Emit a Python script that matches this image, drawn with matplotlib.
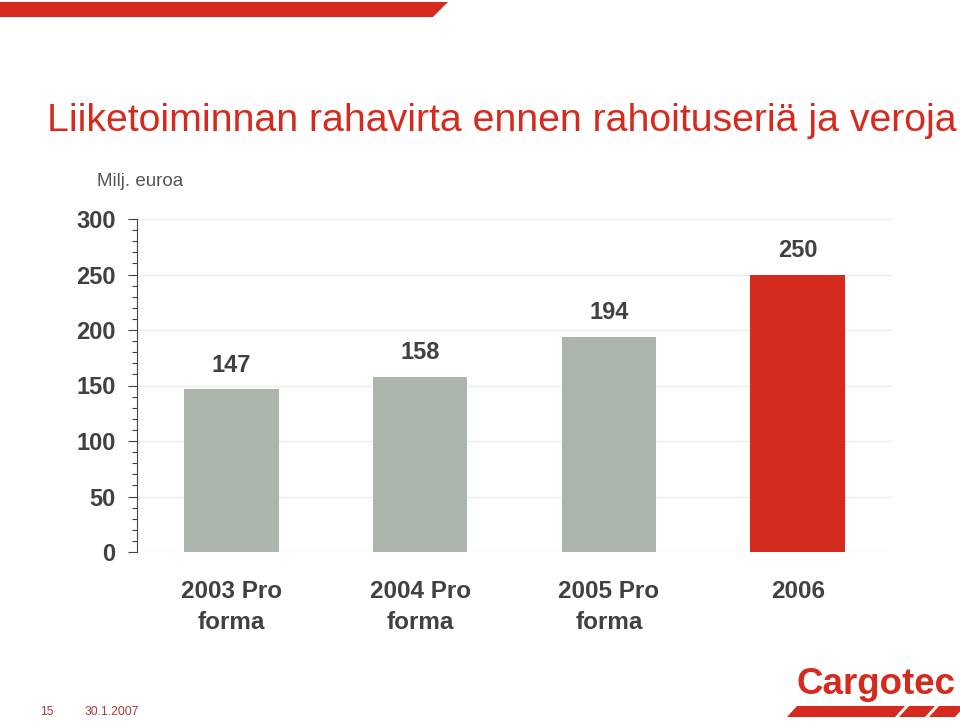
import matplotlib.pyplot as plt
from matplotlib.patches import Polygon
from matplotlib.ticker import MultipleLocator

plt.rcParams['font.family'] = ['Liberation Sans', 'DejaVu Sans']

# Data
categories = ['2003 Pro\nforma', '2004 Pro\nforma', '2005 Pro\nforma', '2006']
values = [147, 158, 194, 250]
bar_colors = ['#abb5ab', '#abb5ab', '#abb5ab', '#d52b1e']

RED = '#d52b1e'
DARK = '#3f423f'

fig = plt.figure(figsize=(9.6, 7.23), dpi=100)

# top red band with slanted end
band = Polygon([(0, 1 - 2/723), (448/960, 1 - 2/723), (433/960, 1 - 17/723), (0, 1 - 17/723)],
               closed=True, transform=fig.transFigure, color=RED, lw=0)
fig.patches.append(band)

fig.text(47/960, 1 - 131/723, 'Liiketoiminnan rahavirta ennen rahoituseriä ja veroja',
         color=RED, fontsize=28.3, ha='left', va='baseline')

ax = fig.add_axes([137/960, 1 - 552/723, 755/960, 333/723])
x = range(len(values))
ax.bar(x, values, width=0.5, color=bar_colors, zorder=3)
for xi, v in zip(x, values):
    ax.text(xi, v + 11, str(v), ha='center', va='bottom', fontsize=17,
            fontweight='bold', color=DARK)

ax.set_xlim(-0.5, 3.5)
ax.set_ylim(0, 300)
ax.yaxis.set_major_locator(MultipleLocator(50))
ax.yaxis.set_minor_locator(MultipleLocator(10))
ax.grid(axis='y', color='#ececec', lw=1, zorder=0)
ax.tick_params(axis='y', which='major', length=6.5, width=0.8, color=DARK,
               labelsize=17, labelcolor=DARK, pad=9)
ax.tick_params(axis='y', which='minor', length=3.6, width=0.8, color=DARK)
for lbl in ax.get_yticklabels():
    lbl.set_fontweight('bold')
ax.set_xticks(list(x))
ax.set_xticklabels(categories, fontsize=17.5, fontweight='bold', color=DARK, linespacing=1.45)
ax.tick_params(axis='x', length=0, pad=20)
for s in ['top', 'right', 'bottom']:
    ax.spines[s].set_visible(False)
ax.spines['left'].set_color(DARK)
ax.spines['left'].set_linewidth(0.8)

fig.text(97/960, 1 - 181/723, 'Milj. euroa', fontsize=13.5, color='#555555',
         ha='left', va='center')

# footer
fig.text(40/960, 1 - 712/723, '15', fontsize=8.7, color='#b03a3a', ha='left', va='center')
fig.text(85/960, 1 - 712/723, '30.1.2007', fontsize=8.7, color='#b03a3a', ha='left', va='center')

# logo
fig.text(876/960, 1 - 684/723, 'Cargotec', fontsize=26.5, fontweight='bold', color=RED,
         ha='center', va='center')
stripes = [(787, 895), (899, 925), (929, 955)]
for x0, x1 in stripes:
    p = Polygon([(x0 / 960 + 10/960, 1 - 706/723), (x1 / 960 + 10/960, 1 - 706/723),
                 (x1 / 960, 1 - 717/723), (x0 / 960, 1 - 717/723)],
                closed=True, transform=fig.transFigure, color=RED, lw=0)
    fig.patches.append(p)

fig.savefig('out.png', dpi=100)
